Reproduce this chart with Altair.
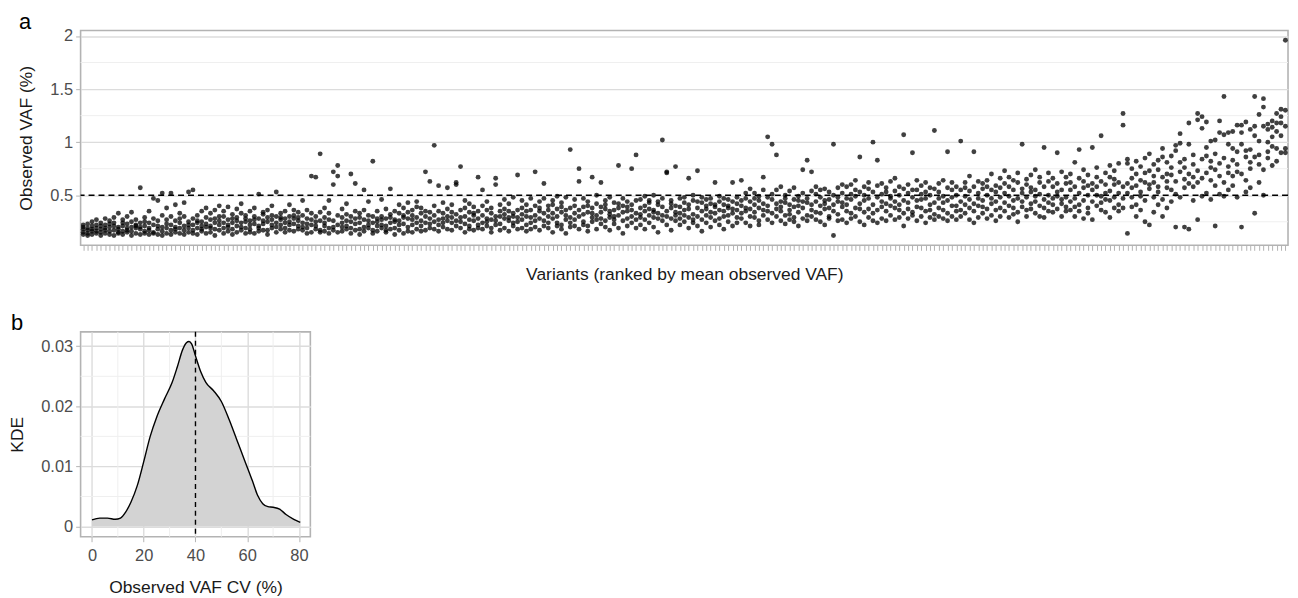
import altair as alt
import pandas as pd

# ---------------- Panel a data ----------------
# One string per variant (already ranked by mean observed VAF);
# numbers are observed VAF in hundredths of a percent (e.g. 57 -> 0.57 %).
seg01 = ["15 18 22 13 20", "19 14 23 17 12", "21 16 13 25 18", "14 22 19 27 16", "18 12 24 21 15",
         "22 17 14 28 19", "13 20 26 16 23", "17 24 12 21 29", "20 15 33 18 14", "16 27 21 13 24",
         "23 19 15 30 17", "12 25 20 34 16", "19 22 14 27 21", "57 18 13 24 20", "21 16 29 14 25",
         "24 13 35 19 17", "15 28 22 47 14", "18 45 13 26 21", "52 20 16 31 12", "23 14 38 19 27",
         "17 30 52 22 13", "26 15 20 41 18", "14 24 33 19 28", "21 43 17 13 30", "53 19 25 15 22"]
seg02 = ["55 22 17 28 14", "19 31 24 13 26", "25 16 35 21 18", "14 29 20 38 23", "27 21 15 33 19",
         "18 36 24 12 28", "22 17 30 26 40", "30 24 19 14 35", "16 27 39 22 20", "24 32 18 28 13",
         "21 15 26 37 29", "33 20 24 17 42", "19 28 14 31 25", "26 35 22 18 15", "14 23 30 27 38",
         "28 19 51 21 16", "23 32 17 26 34", "17 25 36 13 29", "31 22 27 19 40", "20 53 24 15 30",
         "27 18 33 29 22", "35 24 15 28 19", "22 30 41 17 25", "16 28 23 36 31", "29 21 34 18 26"]
seg03 = ["24 17 31 45 20", "19 28 36 23 14", "68 22 15 27 33", "25 67 18 30 21", "89 17 26 34 15",
         "21 38 24 16 29", "27 14 33 45 19", "72 20 60 26 17", "78 68 22 15 31", "16 29 37 24 20",
         "32 21 18 42 26", "70 25 14 30 19", "23 61 28 17 35", "18 33 24 13 29", "55 27 20 36 16",
         "26 19 31 44 22", "82 17 24 30 14", "21 35 28 16 25", "30 22 46 19 27", "17 28 21 37 15",
         "56 24 32 18 29", "25 19 35 27 13", "33 26 17 41 22", "14 31 23 29 38", "28 43 20 16 34"]
seg04 = ["22 36 27 15 31", "39 18 29 24 44", "26 33 16 38 21", "72 24 30 17 35", "19 63 28 34 23",
         "97 25 18 31 40", "27 59 35 22 16", "33 20 43 28 24", "18 57 26 37 30", "29 24 41 17 34",
         "62 32 60 21 26", "25 77 19 36 29", "38 23 30 15 45", "21 34 27 42 18", "31 17 39 26 33",
         "67 28 22 35 19", "24 55 31 18 40", "36 21 28 44 25", "19 33 15 38 27", "66 26 60 30 22",
         "30 41 23 17 35", "28 19 37 32 46", "16 35 26 29 42", "33 24 48 21 30", "69 29 18 36 25"]
seg05 = ["27 38 19 45 32", "41 22 35 16 30", "24 47 29 36 18", "72 31 20 40 26", "35 17 44 28 38",
         "61 26 33 21 47", "19 40 30 36 24", "45 28 15 33 41", "30 37 24 49 21", "22 43 34 18 39",
         "36 27 48 31 14", "93 24 38 29 20", "33 46 21 40 27", "75 63 30 18 36", "25 39 47 32 22",
         "40 21 34 16 44", "67 29 38 25 33", "18 42 27 50 31", "62 34 23 39 28", "37 26 45 20 41",
         "29 48 32 17 35", "43 23 36 30 27", "78 31 19 42 38", "26 40 34 47 14", "35 21 44 28 39"]
seg06 = ["75 30 41 24 36", "88 27 45 33 19", "32 46 22 38 29", "40 18 35 49 27", "24 43 31 37 45",
         "36 29 50 20 34", "44 33 15 41 28", "102 26 39 31 47", "72 71 35 22 30", "28 45 38 17 42",
         "77 34 26 40 31", "39 22 47 33 28", "31 48 25 36 43", "66 29 41 19 37", "45 32 27 50 24",
         "73 38 30 21 44", "27 43 35 48 16", "40 31 24 37 46", "34 47 20 42 29", "62 26 39 33 41",
         "44 36 28 49 22", "30 41 18 35 47", "38 25 46 31 40", "62 33 21 44 37", "29 48 36 24 42"]
seg07 = ["64 33 45 28 40", "38 52 24 47 35", "30 44 37 56 21", "47 29 41 34 52", "26 49 38 22 45",
         "67 36 55 31 42", "105 40 27 48 35", "98 33 46 24 51", "88 42 30 55 37", "35 58 26 44 39",
         "50 31 43 23 47", "41 27 54 36 32", "29 46 39 57 25", "45 34 21 49 40", "74 38 52 28 44",
         "83 43 31 47 26", "72 36 54 41 30", "34 51 27 44 58", "48 25 40 33 55", "37 56 45 22 42",
         "53 30 46 38 28", "98 12 41 35 50", "44 57 32 48 26", "39 27 52 43 60", "58 35 24 47 41"]
seg08 = ["46 60 33 51 28", "30 49 64 38 55", "86 42 25 53 37", "45 58 34 22 50", "62 37 47 29 56",
         "100 41 53 33 26", "83 48 36 59 24", "51 28 44 61 39", "35 57 42 26 53", "49 31 63 40 47",
         "27 54 38 66 44", "58 41 29 50 36", "107 45 33 56 21", "43 60 37 28 52", "90 34 48 55 31",
         "55 26 45 39 64", "38 59 30 51 46", "47 35 62 24 53", "29 50 41 57 36", "111 43 56 32 27",
         "53 38 47 61 30", "36 64 28 49 43", "91 45 33 57 26", "48 30 55 40 62", "40 58 35 50 27"]
seg09 = ["101 44 36 55 30", "57 33 62 41 49", "38 68 46 27 54", "91 42 58 35 24", "52 29 47 63 40",
         "45 61 33 56 39", "64 37 50 28 58", "31 55 42 70 47", "59 44 26 53 36", "48 66 38 57 30",
         "73 35 52 43 61", "40 58 29 49 67", "55 32 64 45 38", "62 47 34 71 25", "98 39 56 44 52",
         "36 60 48 30 65", "53 42 69 37 57", "44 74 33 55 49", "67 30 51 62 40", "95 46 38 58 29",
         "50 63 43 35 71", "58 34 66 47 41", "90 49 37 61 53", "42 72 55 30 46", "61 39 48 67 35"]
seg10 = ["55 36 70 44 62", "47 81 39 58 30", "93 52 41 66 35", "63 28 57 74 45", "50 69 38 59 33",
         "95 44 61 27 55", "58 76 40 50 67", "106 49 36 63 43", "71 34 60 52 46", "45 67 29 78 54",
         "60 38 73 48 65", "52 80 41 62 35", "127 116 47 58 38", "84 80 14 61 52", "66 48 75 39 57",
         "41 70 59 82 30", "77 53 36 64 49", "62 85 45 25 71", "89 22 56 73 60", "48 79 62 34 68",
         "74 58 41 83 53", "94 86 46 67 30", "57 81 70 38 63", "69 44 87 55 76", "97 92 20 63 51"]
seg11 = ["108 99 72 48 81", "65 84 20 57 76", "118 98 18 70 61", "79 58 88 45 67", "127 121 27 73 62",
         "124 113 66 49 84", "119 87 52 71 95", "82 64 101 46 76", "102 21 74 59 89", "120 109 68 51 80",
         "143 107 62 85 49", "109 98 77 55 71", "110 83 94 59 68", "72 91 116 48 79", "116 109 98 20 70",
         "119 86 64 92 53", "93 112 75 57 81", "143 115 106 33 86", "88 101 126 62 79", "141 133 115 74 50",
         "112 100 117 85 91", "120 105 96 78 114", "127 110 94 118 82", "118 124 106 90 131", "196 130 115 94 90"]

vaf_threshold = 0.5
y_breaks_a = [0.5, 1, 1.5, 2]
y_minor_a = [0.25, 0.75, 1.25, 1.75]

# ---------------- Panel b data ----------------
kde_x = [0, 3, 6, 9, 11, 13, 15, 17.5, 20, 22.5, 25, 28, 31, 33, 35, 36.5, 37.5, 38.5,
         40, 42, 44, 47, 50, 53, 56, 59, 62, 64, 66, 68, 70, 72.5, 75, 78, 80.5]
kde_y = [0.0011, 0.0014, 0.0014, 0.0012, 0.0014, 0.0024, 0.0040, 0.0068, 0.0108, 0.0150,
         0.0182, 0.0212, 0.0240, 0.0266, 0.0294, 0.0306, 0.0308, 0.0304, 0.0284, 0.0258,
         0.0240, 0.0226, 0.0208, 0.0178, 0.0144, 0.0110, 0.0076, 0.0052, 0.0038, 0.0033,
         0.0032, 0.0029, 0.0020, 0.0012, 0.0007]
cv_mean_line = 40
x_breaks_b = [0, 20, 40, 60, 80]
x_minor_b = [10, 30, 50, 70]
y_breaks_b = [0, 0.01, 0.02, 0.03]
y_minor_b = [0.005, 0.015, 0.025]

# ---------------- build tables ----------------
rows = []
rank = 0
for seg in [seg01, seg02, seg03, seg04, seg05, seg06, seg07, seg08, seg09, seg10, seg11]:
    for variant in seg:
        rank += 1
        for tok in variant.split():
            rows.append({"rank": rank, "vaf": int(tok) / 100})
df_a = pd.DataFrame(rows)
ymin, ymax = df_a["vaf"].min(), df_a["vaf"].max()
pad = (ymax - ymin) * 0.05
ydom_a = [ymin - pad, ymax + pad]

df_b = pd.DataFrame({"cv": kde_x, "kde": kde_y})

FONT = "Liberation Sans"
BORDER = "#b3b3b3"
GRID_MAJOR = "#dcdcdc"
GRID_MINOR = "#efefef"

# ---------------- Panel a ----------------
ya = alt.Scale(domain=ydom_a, nice=False, zero=False)
yax_a = alt.Axis(values=y_breaks_a, format="~g", grid=True, gridColor=GRID_MAJOR,
                 gridWidth=1.4, title="Observed VAF (%)", titlePadding=14)
xax_a = alt.Axis(labels=False, ticks=True, tickSize=5, domain=False, grid=False,
                 title="Variants (ranked by mean observed VAF)", titlePadding=15)

minor_a = alt.Chart(pd.DataFrame({"v": y_minor_a})).mark_rule(
    color=GRID_MINOR, strokeWidth=1).encode(y=alt.Y("v:Q", scale=ya, axis=yax_a))
pts = alt.Chart(df_a).mark_circle(size=24, opacity=0.75, color="black").encode(
    x=alt.X("rank:O", scale=alt.Scale(type="point", padding=0.6), axis=xax_a),
    y=alt.Y("vaf:Q", scale=ya, axis=yax_a),
)
hline = alt.Chart(pd.DataFrame({"v": [vaf_threshold]})).mark_rule(
    color="black", strokeDash=[6, 4], strokeWidth=1.4).encode(y=alt.Y("v:Q", scale=ya, axis=yax_a))

panel_a = alt.layer(minor_a, pts, hline).properties(
    width=1214, height=216,
    title=alt.TitleParams("a", anchor="start", frame="group", fontSize=22, font=FONT,
                          fontWeight="normal", color="black", dx=-62, offset=-28,
                          baseline="bottom"))

# ---------------- Panel b ----------------
xb = alt.Scale(domain=[-4.4, 84.4], nice=False, zero=False)
yb = alt.Scale(domain=[-0.0017, 0.0324], nice=False, zero=False)
xax_b = alt.Axis(values=x_breaks_b, format="d", grid=True, gridColor=GRID_MAJOR, gridWidth=1.4,
                 title="Observed VAF CV (%)", titlePadding=15, labelPadding=6)
yax_b = alt.Axis(values=y_breaks_b, format="~g", grid=True, gridColor=GRID_MAJOR, gridWidth=1.4,
                 title="KDE", titlePadding=14)

minor_bx = alt.Chart(pd.DataFrame({"v": x_minor_b})).mark_rule(
    color=GRID_MINOR, strokeWidth=1).encode(x=alt.X("v:Q", scale=xb, axis=xax_b))
minor_by = alt.Chart(pd.DataFrame({"v": y_minor_b})).mark_rule(
    color=GRID_MINOR, strokeWidth=1).encode(y=alt.Y("v:Q", scale=yb, axis=yax_b))
area = alt.Chart(df_b).mark_area(color="#d3d3d3", interpolate="monotone").encode(
    x=alt.X("cv:Q", scale=xb, axis=xax_b), y=alt.Y("kde:Q", scale=yb, axis=yax_b))
line = alt.Chart(df_b).mark_line(color="black", strokeWidth=1.4, interpolate="monotone").encode(
    x=alt.X("cv:Q", scale=xb, axis=xax_b), y=alt.Y("kde:Q", scale=yb, axis=yax_b))
vline = alt.Chart(pd.DataFrame({"v": [cv_mean_line]})).mark_rule(
    color="black", strokeDash=[5, 4], strokeWidth=1.4).encode(x=alt.X("v:Q", scale=xb, axis=xax_b))

panel_b = alt.layer(minor_bx, minor_by, area, line, vline).properties(
    width=231, height=206,
    title=alt.TitleParams("b", anchor="start", frame="group", fontSize=22, font=FONT,
                          fontWeight="normal", color="black", dx=-70, offset=-26,
                          baseline="bottom"))

chart = alt.vconcat(panel_a, panel_b, spacing=27).properties(
    padding={"left": 0, "top": 0, "right": 0, "bottom": 0}
).configure_view(stroke=BORDER, strokeWidth=1.6).configure_axis(
    labelFont=FONT, labelFontSize=16.5, labelColor="#4d4d4d", titleFont=FONT, titleFontSize=17.5,
    titleColor="#1a1a1a", titleFontWeight="normal", tickColor=BORDER, tickSize=5, domain=False,
    labelPadding=3
).configure_concat(spacing=27)

chart.save("out.html", embed_options={"renderer": "svg", "actions": False})
